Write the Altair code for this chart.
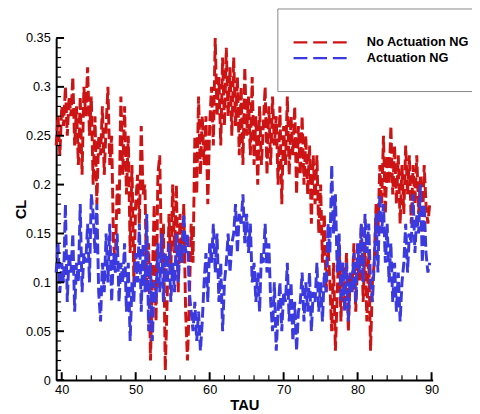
import altair as alt
import numpy as np
import pandas as pd

# Sampling grid of the time signal (TAU), 0.25 steps
TAU_START = 39.25
TAU_STEP = 0.25

no_actuation = [
    0.24, 0.27, 0.23, 0.28,
    0.26, 0.30, 0.25, 0.29,
    0.27, 0.31, 0.24, 0.28,
    0.22, 0.29, 0.21, 0.30,
    0.27, 0.32, 0.25, 0.29,
    0.20, 0.27, 0.18, 0.25,
    0.23, 0.28, 0.21, 0.26,
    0.30, 0.22, 0.25, 0.14,
    0.12, 0.20, 0.17, 0.29,
    0.21, 0.28, 0.19, 0.25,
    0.13, 0.22, 0.10, 0.18,
    0.21, 0.16, 0.26, 0.19,
    0.20, 0.09, 0.14, 0.02,
    0.10, 0.18, 0.06, 0.21,
    0.23, 0.12, 0.16, 0.01,
    0.08, 0.17, 0.11, 0.20,
    0.13, 0.20, 0.09, 0.17,
    0.12, 0.18, 0.07, 0.02,
    0.08, 0.16, 0.12, 0.25,
    0.19, 0.29, 0.21, 0.27,
    0.22, 0.27, 0.18, 0.26,
    0.30, 0.24, 0.35, 0.27,
    0.31, 0.24, 0.33, 0.26,
    0.34, 0.27, 0.32, 0.25,
    0.33, 0.26, 0.31, 0.23,
    0.30, 0.22, 0.32, 0.25,
    0.29, 0.23, 0.31, 0.22,
    0.27, 0.20, 0.28, 0.22,
    0.26, 0.30, 0.21, 0.28,
    0.22, 0.29, 0.24, 0.27,
    0.20, 0.28, 0.18, 0.26,
    0.22, 0.29, 0.21, 0.27,
    0.23, 0.28, 0.19, 0.26,
    0.21, 0.27, 0.20, 0.25,
    0.19, 0.24, 0.16, 0.23,
    0.18, 0.23, 0.15, 0.20,
    0.12, 0.17, 0.09, 0.14,
    0.10, 0.05, 0.12, 0.03,
    0.09, 0.14, 0.06, 0.12,
    0.08, 0.13, 0.05, 0.11,
    0.09, 0.14, 0.07, 0.12,
    0.10, 0.16, 0.08, 0.14,
    0.06, 0.13, 0.03, 0.10,
    0.12, 0.18, 0.15, 0.22,
    0.18, 0.25, 0.17, 0.23,
    0.20, 0.26, 0.19, 0.24,
    0.18, 0.23, 0.16, 0.22,
    0.17, 0.24, 0.19, 0.23,
    0.16, 0.22, 0.18, 0.23,
    0.17, 0.21, 0.15, 0.22,
    0.18, 0.16, 0.18,
]

actuation = [
    0.11, 0.14, 0.09, 0.12,
    0.10, 0.18, 0.08, 0.13,
    0.11, 0.15, 0.07, 0.12,
    0.10, 0.18, 0.09, 0.13,
    0.12, 0.16, 0.10, 0.19,
    0.17, 0.13, 0.18, 0.09,
    0.06, 0.12, 0.09, 0.15,
    0.10, 0.16, 0.08, 0.13,
    0.11, 0.15, 0.08, 0.12,
    0.10, 0.14, 0.07, 0.12,
    0.04, 0.10, 0.08, 0.13,
    0.10, 0.16, 0.07, 0.14,
    0.09, 0.17, 0.05, 0.12,
    0.04, 0.10, 0.08, 0.14,
    0.09, 0.15, 0.08, 0.13,
    0.10, 0.14, 0.08, 0.12,
    0.09, 0.15, 0.10, 0.14,
    0.12, 0.17, 0.13, 0.15,
    0.09, 0.07, 0.05, 0.08,
    0.04, 0.07, 0.03, 0.06,
    0.10, 0.13, 0.08, 0.14,
    0.12, 0.16, 0.11, 0.15,
    0.08, 0.12, 0.05, 0.10,
    0.12, 0.15, 0.11, 0.14,
    0.15, 0.18, 0.13, 0.17,
    0.16, 0.19, 0.14, 0.17,
    0.13, 0.16, 0.10, 0.12,
    0.08, 0.11, 0.07, 0.13,
    0.12, 0.16, 0.11, 0.14,
    0.08, 0.05, 0.10, 0.03,
    0.07, 0.10, 0.05, 0.09,
    0.08, 0.12, 0.06, 0.10,
    0.04, 0.08, 0.03, 0.07,
    0.08, 0.11, 0.06, 0.10,
    0.07, 0.11, 0.05, 0.09,
    0.08, 0.12, 0.07, 0.10,
    0.06, 0.11, 0.09, 0.16,
    0.13, 0.22, 0.15, 0.19,
    0.11, 0.15, 0.08, 0.12,
    0.07, 0.12, 0.06, 0.11,
    0.09, 0.13, 0.08, 0.14,
    0.11, 0.16, 0.10, 0.17,
    0.13, 0.16, 0.10, 0.08,
    0.12, 0.17, 0.11, 0.19,
    0.15, 0.18, 0.12, 0.16,
    0.10, 0.14, 0.08, 0.12,
    0.07, 0.11, 0.06, 0.10,
    0.12, 0.16, 0.11, 0.15,
    0.14, 0.19, 0.13, 0.17,
    0.15, 0.20, 0.12, 0.18,
    0.13, 0.11, 0.12,
]

series_names = ["No Actuation NG", "Actuation NG"]
series_colors = ["#cc1414", "#3a3ade"]

x_major = [40, 50, 60, 70, 80, 90]
x_minor = [42, 44, 46, 48, 52, 54, 56, 58, 62, 64, 66, 68, 72, 74, 76, 78, 82, 84, 86, 88]
y_major = [0, 0.05, 0.1, 0.15, 0.2, 0.25, 0.3, 0.35]
y_minor = [round(0.01 * i, 2) for i in range(36) if i % 5 != 0]

tau = np.round(TAU_START + TAU_STEP * np.arange(len(no_actuation)), 2)

df = pd.concat([
    pd.DataFrame({"TAU": tau, "CL": no_actuation, "series": series_names[0], "k": 0}),
    pd.DataFrame({"TAU": tau, "CL": actuation, "series": series_names[1], "k": 1}),
])

W, H = 383, 348
FONT = "Liberation Sans"

xscale = alt.Scale(domain=[39.25, 90.15], nice=False, zero=False)
yscale = alt.Scale(domain=[0, 0.35], nice=False)

lines = alt.Chart(df).mark_line(strokeDash=[11, 4], strokeWidth=3).encode(
    x=alt.X("TAU:Q", scale=xscale,
            axis=alt.Axis(values=x_major, title="TAU", ticks=False, labelPadding=4,
                          titlePadding=1, grid=False)),
    y=alt.Y("CL:Q", scale=yscale,
            axis=alt.Axis(values=y_major, title="CL", ticks=False, labelPadding=6,
                          titleX=-28, grid=False, format="~g")),
    color=alt.Color("series:N",
                    scale=alt.Scale(domain=series_names, range=series_colors),
                    legend=alt.Legend(title=None, orient="none", legendX=225, legendY=-30,
                                      symbolType="M-4,0H4", symbolSize=196,
                                      symbolOffset=10,
                                      symbolStrokeWidth=2.2, symbolDash=[14, 6],
                                      labelFont=FONT, labelFontSize=13,
                                      labelFontWeight="bold", labelColor="black",
                                      labelOffset=38, padding=26, rowPadding=0,
                                      strokeColor="#888888", fillColor="white")),
    order=alt.Order("k:Q"),
)

ytick_major = alt.Chart(pd.DataFrame({"v": y_major})).mark_rule(color="black", strokeWidth=2).encode(
    y=alt.Y("v:Q", scale=yscale), x=alt.value(0), x2=alt.value(8))
ytick_minor = alt.Chart(pd.DataFrame({"v": y_minor})).mark_rule(color="black", strokeWidth=1.2).encode(
    y=alt.Y("v:Q", scale=yscale), x=alt.value(0), x2=alt.value(5))
xtick_major = alt.Chart(pd.DataFrame({"v": x_major})).mark_rule(color="black", strokeWidth=2).encode(
    x=alt.X("v:Q", scale=xscale), y=alt.value(H), y2=alt.value(H - 8))
xtick_minor = alt.Chart(pd.DataFrame({"v": x_minor})).mark_rule(color="black", strokeWidth=1.2).encode(
    x=alt.X("v:Q", scale=xscale), y=alt.value(H), y2=alt.value(H - 5))

chart = alt.layer(lines, ytick_minor, ytick_major, xtick_minor, xtick_major).properties(
    width=W, height=H,
    autosize=alt.AutoSizeParams(type="none"),
    padding={"left": 49, "top": 27, "right": 40, "bottom": 31},
).configure_view(stroke=None).configure_axis(
    domainColor="black", domainWidth=2,
    labelFont=FONT, labelFontSize=13, labelColor="black",
    titleFont=FONT, titleFontSize=15, titleFontWeight="bold", titleColor="black",
)

chart.save("out.html", embed_options={"renderer": "svg", "actions": False})
